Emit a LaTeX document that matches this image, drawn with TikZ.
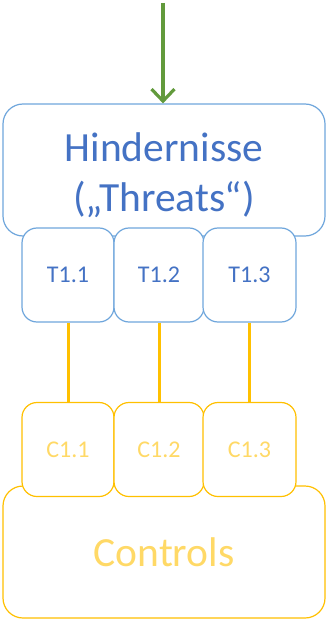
\documentclass[tikz,border=0pt]{standalone}
\usepackage{fontspec}
\setmainfont{Carlito}
\usetikzlibrary{arrows.meta}
\definecolor{tblue}{HTML}{4472C4}
\definecolor{bblue}{HTML}{6FA6DC}
\definecolor{cyel}{HTML}{FFC000}
\definecolor{tyel}{HTML}{FFD966}
\definecolor{agreen}{HTML}{629A3C}
\tikzset{
  bigbox/.style={draw, fill=white, line width=1.2pt, rounded corners=20pt, minimum width=322pt, minimum height=132pt, inner sep=0pt, align=center, font=\fontsize{41.5}{49}\selectfont},
  smallbox/.style={draw, fill=white, line width=1.2pt, rounded corners=15pt, minimum height=94pt, inner sep=0pt, font=\fontsize{24}{28}\selectfont},
  threat/.style={draw=bblue, text=tblue},
  control/.style={draw=cyel, text=tyel},
  link/.style={draw=cyel, line width=3pt},
  flow/.style={draw=agreen, line width=3.2pt, -{Straight Barb[length=12pt,width=23pt]}}
}
\begin{document}
\begin{tikzpicture}[x=1pt,y=-1pt]
\useasboundingbox (0,0) rectangle (326,620);
% top arrow
\coordinate (start) at (163,3);
\node[bigbox, threat] (threats) at (164,170) {\raisebox{-13pt}[0pt][0pt]{\begin{tabular}{@{}c@{}}Hindernisse\\[1pt](„Threats“)\end{tabular}}};
\node[smallbox, threat, minimum width=92pt] (t1) at (68,275) {T1.1};
\node[smallbox, threat, minimum width=90pt] (t2) at (159,275) {T1.2};
\node[smallbox, threat, minimum width=93pt] (t3) at (249.5,275) {T1.3};
\draw[flow] (start) -- (threats.north -| start);
% controls
\node[bigbox, control] (controls) at (164,552) {\raisebox{-3pt}{Controls}};
\node[smallbox, control, minimum width=92pt] (c1) at (68,449.5) {C1.1};
\node[smallbox, control, minimum width=90pt] (c2) at (159,449.5) {C1.2};
\node[smallbox, control, minimum width=93pt] (c3) at (249.5,449.5) {C1.3};
\draw[link] (t1.south) -- (c1.north);
\draw[link] (t2.south) -- (c2.north);
\draw[link] (t3.south) -- (c3.north);
\end{tikzpicture}
\end{document}
